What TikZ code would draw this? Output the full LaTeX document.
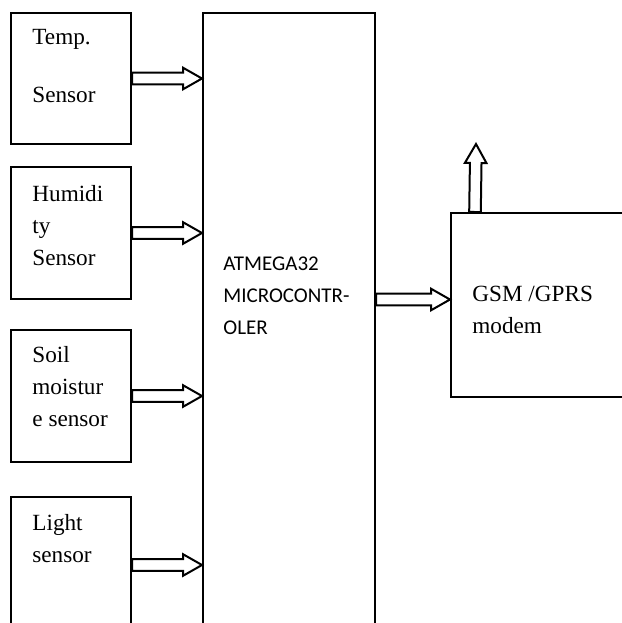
\documentclass[tikz,border=0pt]{standalone}
\usepackage{fontspec}
\setmainfont{Liberation Serif}
\newfontfamily\calibrifont{Carlito}
\usetikzlibrary{calc}

\tikzset{
  blk/.style={draw, line width=1pt, rectangle, inner sep=0pt, minimum width=60pt},
  txt/.style={anchor=north west, inner sep=0pt, align=left, font=\fontsize{11.6}{16}\selectfont},
  fatarrow/.style={line width=1pt, to path={let \p1=(\tikztostart), \p2=(\tikztotarget), \n1={atan2(\y2-\y1,\x2-\x1)} in
    ($(\p1)+(\n1+90:2.9pt)$) -- ($(\p2)+(\n1+180:9.5pt)+(\n1+90:2.9pt)$)
    -- ($(\p2)+(\n1+180:9.5pt)+(\n1+90:5.4pt)$) -- (\p2)
    -- ($(\p2)+(\n1+180:9.5pt)+(\n1-90:5.4pt)$) -- ($(\p2)+(\n1+180:9.5pt)+(\n1-90:2.9pt)$)
    -- ($(\p1)+(\n1-90:2.9pt)$) -- cycle}}
}

\begin{document}
\begin{tikzpicture}[x=0.5pt, y=-0.5pt]
                    \useasboundingbox (0,0) rectangle (622,623);
                    \clip (0,0) rectangle (622,623);

                    \node[blk, minimum height=65.5pt] (temp) at (71,78.5) {};
                    \node[blk, minimum height=66pt] (hum) at (71,233) {};
                    \node[blk, minimum height=66pt] (soil) at (71,396) {};
                    \node[blk, minimum height=68pt] (light) at (71,565) {};
                    \node[blk, minimum width=86pt, minimum height=313.5pt] (mcu) at (289,326.5) {};
                    \node[blk, minimum width=94.5pt, minimum height=92pt] (gsm) at (545.5,305) {};

                    \node[txt] (tempT) at (32,29) {Temp.\\[13pt]Sensor};
                    \node[txt] (humT) at (32,184.5) {Humidi\\ty\\Sensor};
                    \node[txt] (soilT) at (32,346) {Soil\\moistur\\e sensor};
                    \node[txt] (lightT) at (32,514) {Light\\sensor};
                    \node[txt, font=\calibrifont\fontsize{10.5}{16}\selectfont] (mcuT) at (223,256) {ATMEGA32\\MICROCONTR-\\OLER};
                    \node[txt] (gsmT) at (472,286) {GSM /GPRS\\modem};

                    \coordinate (gsmin) at ([yshift=2.75pt]gsm.west);
                    \coordinate (gsmup) at ([xshift=12.5pt]gsm.north west);
                    \coordinate (antenna) at (476,144);

                    \draw[fatarrow] (temp.east) to (temp.east -| mcu.west);
                    \draw[fatarrow] (hum.east) to (hum.east -| mcu.west);
                    \draw[fatarrow] (soil.east) to (soil.east -| mcu.west);
                    \draw[fatarrow] (light.east) to (light.east -| mcu.west);
                    \draw[fatarrow] (mcu.east |- gsmin) to (gsmin);
                    \draw[fatarrow] (gsmup) to (antenna);
                \end{tikzpicture}
\end{document}
